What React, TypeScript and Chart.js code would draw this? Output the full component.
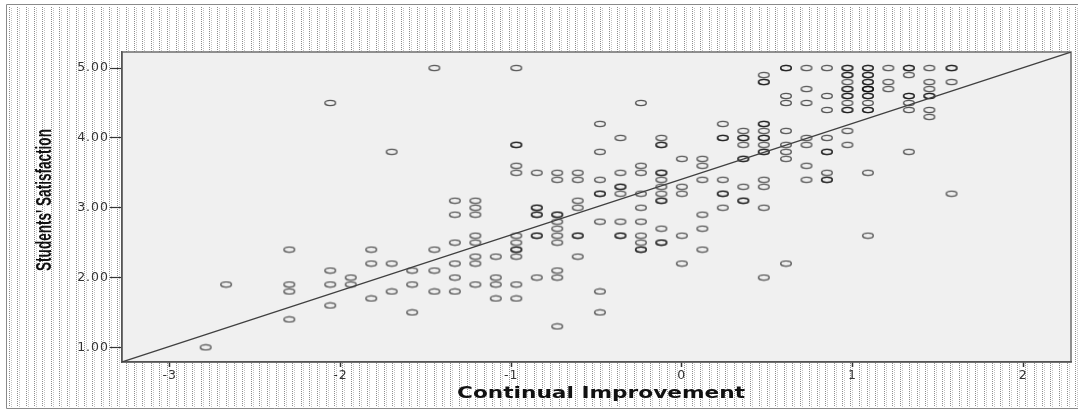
import React, { useEffect, useRef } from "react";
import { Chart, registerables } from "chart.js";

Chart.register(...registerables);

// ---- Axis definitions ----
const xTickValues = [-3, -2, -1, 0, 1, 2];
const yTickValues = [1, 2, 3, 4, 5];
const xAxisRange = [-3.28, 2.28];
const yAxisRange = [0.79, 5.23];
const xAxisTitle = "Continual Improvement";
const yAxisTitle = "Students' Satisfaction";

// ---- Observations: Continual Improvement score levels and the satisfaction values observed at each ----
const improvementScores = [
  -2.79, -2.67, -2.3, -2.06, -1.94, -1.82, -1.7, -1.58, -1.45, -1.33, -1.21, -1.09,
  -0.97, -0.85, -0.73, -0.61, -0.48, -0.36, -0.24, -0.12, 0.0, 0.12, 0.24, 0.36,
  0.48, 0.61, 0.73, 0.85, 0.97, 1.09, 1.21, 1.33, 1.45, 1.58,
];

const satisfactionScores = [
  [1.0],
  [1.9],
  [2.4, 1.9, 1.8, 1.4],
  [4.5, 2.1, 1.9, 1.6],
  [2.0, 1.9],
  [2.4, 2.2, 1.7],
  [3.8, 2.2, 1.8],
  [2.1, 1.9, 1.5],
  [5.0, 2.4, 2.1, 1.8],
  [3.1, 2.9, 2.5, 2.2, 2.0, 1.8],
  [3.1, 3.0, 2.9, 2.6, 2.5, 2.3, 2.2, 1.9],
  [2.3, 2.0, 1.9, 1.7],
  [5.0, 3.9, 3.9, 3.6, 3.5, 2.6, 2.5, 2.4, 2.4, 2.3, 1.9, 1.7],
  [3.5, 3.0, 3.0, 2.9, 2.9, 2.6, 2.6, 2.0],
  [3.5, 3.4, 2.9, 2.9, 2.8, 2.7, 2.6, 2.5, 2.1, 2.0, 1.3],
  [3.5, 3.4, 3.1, 3.0, 2.6, 2.6, 2.3],
  [4.2, 3.8, 3.4, 3.2, 3.2, 2.8, 1.8, 1.5],
  [4.0, 3.5, 3.3, 3.3, 3.2, 2.8, 2.6, 2.6],
  [4.5, 3.6, 3.5, 3.2, 3.0, 2.8, 2.6, 2.5, 2.4, 2.4],
  [4.0, 3.9, 3.9, 3.5, 3.5, 3.4, 3.3, 3.2, 3.1, 3.1, 2.7, 2.5, 2.5],
  [3.7, 3.3, 3.2, 2.6, 2.2],
  [3.7, 3.6, 3.4, 2.9, 2.7, 2.4],
  [4.2, 4.0, 4.0, 3.4, 3.2, 3.2, 3.0],
  [4.1, 4.0, 4.0, 3.9, 3.7, 3.7, 3.3, 3.1, 3.1],
  [4.9, 4.8, 4.8, 4.2, 4.2, 4.1, 4.0, 4.0, 3.9, 3.8, 3.8, 3.4, 3.3, 3.0, 2.0],
  [5.0, 5.0, 4.6, 4.5, 4.1, 3.9, 3.8, 3.7, 2.2],
  [5.0, 4.7, 4.5, 4.0, 3.9, 3.6, 3.4],
  [5.0, 4.6, 4.4, 4.0, 3.8, 3.8, 3.5, 3.4, 3.4],
  [5.0, 5.0, 4.9, 4.9, 4.8, 4.7, 4.7, 4.6, 4.6, 4.5, 4.4, 4.4, 4.1, 3.9],
  [5.0, 5.0, 4.9, 4.9, 4.8, 4.8, 4.7, 4.7, 4.7, 4.6, 4.6, 4.5, 4.4, 4.4, 3.5, 2.6],
  [5.0, 4.8, 4.7],
  [5.0, 5.0, 4.9, 4.6, 4.6, 4.5, 4.4, 3.8],
  [5.0, 4.8, 4.7, 4.6, 4.6, 4.4, 4.3],
  [5.0, 5.0, 4.8, 3.2],
];

// ---- Linear fit line (endpoints) ----
const fitLineX = [-3.28, 2.28];
const fitLineY = [0.79, 5.23];

export default function App() {
  const canvasRef = useRef<HTMLCanvasElement | null>(null);

  useEffect(() => {
    document.body.style.margin = "0";
    const canvas = canvasRef.current;
    if (!canvas) return;

    // elliptical hollow marker
    const marker = document.createElement("canvas");
    marker.width = 14;
    marker.height = 8;
    const mctx = marker.getContext("2d")!;
    mctx.strokeStyle = "rgba(0,0,0,0.64)";
    mctx.lineWidth = 1.4;
    mctx.beginPath();
    mctx.ellipse(7, 4, 5.3, 2.6, 0, 0, Math.PI * 2);
    mctx.stroke();

    const points: { x: number; y: number }[] = [];
    improvementScores.forEach((x, i) => {
      satisfactionScores[i].forEach((y) => points.push({ x, y }));
    });
    const fitPoints = fitLineX.map((x, i) => ({ x, y: fitLineY[i] }));

    const spssBackground = {
      id: "spssBackground",
      beforeDraw(chart: any) {
        const { ctx, width, chartArea: a } = chart;
        ctx.save();
        ctx.fillStyle = "#ffffff";
        ctx.fillRect(0, 0, width, chart.height);
        for (let x = 9; x < width; x += 8.33) {
          const px = Math.round(x);
          ctx.fillStyle = "#8c8c8c";
          for (let y = 7; y < 407; y += 2) ctx.fillRect(px, y, 1, 1);
          ctx.fillStyle = "#c4c4c4";
          for (let y = 8; y < 407; y += 2) ctx.fillRect(px + 2, y, 1, 1);
        }
        ctx.strokeStyle = "#8a8a8a";
        ctx.lineWidth = 1;
        ctx.beginPath();
        ctx.moveTo(width, 4.5);
        ctx.lineTo(6.5, 4.5);
        ctx.lineTo(6.5, 408.5);
        ctx.lineTo(width, 408.5);
        ctx.stroke();
        ctx.fillStyle = "#f0f0f0";
        ctx.fillRect(a.left, a.top, a.right - a.left, a.bottom - a.top);
        ctx.strokeStyle = "#6e6e6e";
        ctx.lineWidth = 1.5;
        ctx.strokeRect(a.left, a.top, a.right - a.left, a.bottom - a.top);
        ctx.restore();
        // slightly wide tick lettering, as in the stretched original
        (ctx as any).letterSpacing = "1px";
      },
      afterDraw(chart: any) {
        const { ctx } = chart;
        (ctx as any).letterSpacing = "0px";
        // x-axis title (wide, bold)
        ctx.save();
        ctx.fillStyle = "#111";
        ctx.font = 'bold 15px "DejaVu Sans"';
        const wx = ctx.measureText(xAxisTitle).width;
        ctx.translate(601, 398);
        ctx.scale(288 / wx, 1);
        ctx.textAlign = "center";
        ctx.textBaseline = "alphabetic";
        ctx.fillText(xAxisTitle, 0, 0);
        ctx.restore();
        // y-axis title (rotated, condensed look)
        ctx.save();
        ctx.fillStyle = "#111";
        ctx.font = 'bold 13.5px "Liberation Sans"';
        const wy = ctx.measureText(yAxisTitle).width;
        const fs = (13.5 * 142) / wy;
        ctx.font = `bold ${fs}px "Liberation Sans"`;
        ctx.translate(51, 200);
        ctx.scale(1.65, 1);
        ctx.rotate(-Math.PI / 2);
        ctx.textAlign = "center";
        ctx.textBaseline = "alphabetic";
        ctx.fillText(yAxisTitle, 0, 0);
        ctx.restore();
      },
    };

    const chart = new Chart(canvas, {
      type: "scatter",
      data: {
        datasets: [
          {
            label: "Fit line",
            data: fitPoints,
            showLine: true,
            borderColor: "#404040",
            borderWidth: 1.2,
            pointRadius: 0,
            fill: false,
          } as any,
          {
            label: yAxisTitle,
            data: points,
            pointStyle: marker as any,
            pointRadius: 6,
            showLine: false,
          } as any,
        ],
      },
      options: {
        animation: false,
        responsive: false,
        devicePixelRatio: 1,
        layout: { padding: { top: 52, right: 7, left: 0, bottom: 0 } },
        plugins: {
          legend: { display: false },
          tooltip: { enabled: false },
        },
        scales: {
          x: {
            type: "linear",
            min: xAxisRange[0],
            max: xAxisRange[1],
            afterBuildTicks: (s: any) => {
              s.ticks = xTickValues.map((v) => ({ value: v }));
            },
            afterFit: (s: any) => {
              s.height = 48;
            },
            grid: {
              drawOnChartArea: false,
              drawTicks: true,
              tickLength: 5,
              tickColor: "#333",
              tickWidth: 1.5,
            },
            border: { display: true, color: "#555", width: 1.5 },
            ticks: {
              color: "#333",
              font: { family: "DejaVu Sans", size: 12.5 },
              padding: 1,
              maxRotation: 0,
              autoSkip: false,
              callback: (v: any) => String(v),
            },
            title: { display: false },
          },
          y: {
            type: "linear",
            min: yAxisRange[0],
            max: yAxisRange[1],
            afterBuildTicks: (s: any) => {
              s.ticks = yTickValues.map((v) => ({ value: v }));
            },
            afterFit: (s: any) => {
              s.width = 122;
            },
            grid: {
              drawOnChartArea: false,
              drawTicks: true,
              tickLength: 12,
              tickColor: "#333",
              tickWidth: 1.2,
            },
            border: { display: true, color: "#555", width: 1.5 },
            ticks: {
              color: "#333",
              font: { family: "DejaVu Sans", size: 12.5 },
              padding: 1,
              autoSkip: false,
              callback: (v: any) => Number(v).toFixed(2),
            },
            title: { display: false },
          },
        },
      },
      plugins: [spssBackground],
    });

    return () => chart.destroy();
  }, []);

  return (
    <canvas
      ref={canvasRef}
      width={1078}
      height={410}
      style={{ display: "block", width: 1078, height: 410 }}
    />
  );
}
